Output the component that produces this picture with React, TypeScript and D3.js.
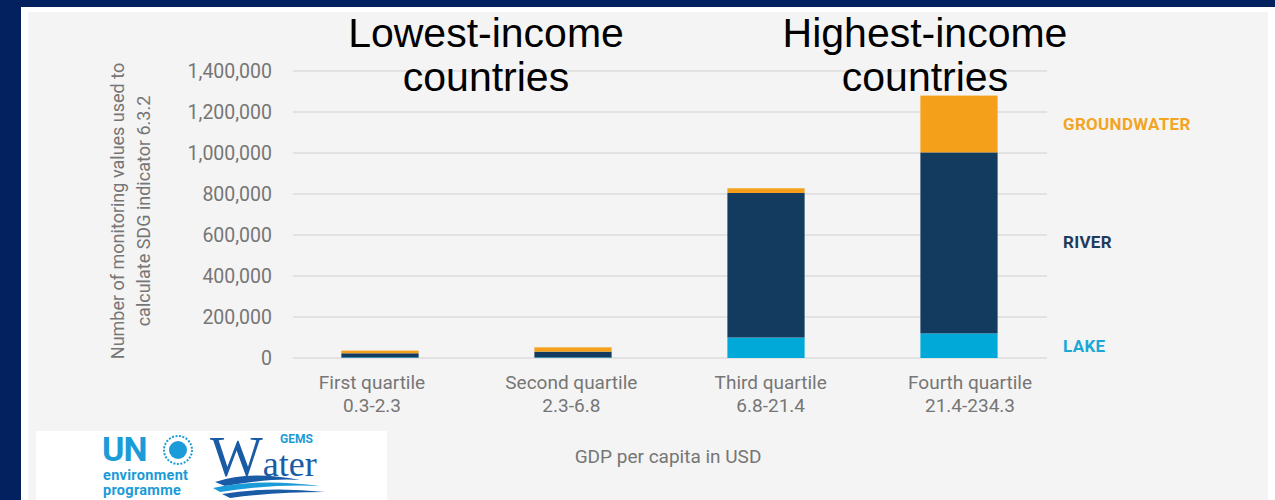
import React from "react";
import * as d3 from "d3";

const categories = ["First quartile", "Second quartile", "Third quartile", "Fourth quartile"];
const gdpRanges = ["0.3-2.3", "2.3-6.8", "6.8-21.4", "21.4-234.3"];
const lake = [3000, 3000, 100000, 120000];
const river = [20000, 28000, 705000, 883000];
const groundwater = [13000, 21000, 23000, 277000];
const yTicks = [0, 200000, 400000, 600000, 800000, 1000000, 1200000, 1400000];
const seriesKeys = ["lake", "river", "groundwater"];
const legendLabels = ["LAKE", "RIVER", "GROUNDWATER"];
const legendValues = [58000, 565000, 1140000];
const colors = ["#01a9d8", "#133b5f", "#f5a01b"];
const legendColors = ["#1ba8d6", "#1f3b5c", "#f4a423"];

const W = 1275;
const H = 500;

export default function App() {
  const rows = categories.map((c, i) => ({
    cat: c,
    lake: lake[i],
    river: river[i],
    groundwater: groundwater[i],
  }));
  const stacked = d3.stack<any>().keys(seriesKeys)(rows);

  const x = d3.scaleBand<string>().domain(categories).range([283.5, 1055.5]).paddingInner(0.6).paddingOuter(0.3);
  const xLabel = d3.scalePoint<string>().domain(categories).range([372, 970]);
  const y = d3.scaleLinear().domain([0, 1400000]).range([358, 71]);
  const fmt = d3.format(",");
  const gray = "#767676";

  return (
    <svg width={W} height={H} style={{ position: "absolute", left: 0, top: 0 }} fontFamily="Roboto, sans-serif">
      <rect x={0} y={0} width={W} height={H} fill="#03215f" />
      <rect x={21} y={7} width={W - 21} height={H - 7} fill="#ffffff" />
      <rect x={28} y={12} width={1240} height={H - 12} fill="#f4f4f4" />

      {/* gridlines */}
      {yTicks.map((t) => (
        <line key={t} x1={293} x2={1047} y1={y(t)} y2={y(t)} stroke="#dcdcdc" strokeWidth={1.5} />
      ))}
      {/* y tick labels */}
      {yTicks.map((t) => (
        <text key={"l" + t} x={272} y={y(t)} dy="0.36em" textAnchor="end" fontSize={19.5} fill={gray}>
          {fmt(t)}
        </text>
      ))}

      {/* bars */}
      {stacked.map((s, si) => (
        <g key={s.key} fill={colors[si]}>
          {s.map((d, i) => (
            <rect
              key={i}
              x={x(categories[i])}
              width={x.bandwidth()}
              y={y(d[1])}
              height={y(d[0]) - y(d[1])}
            />
          ))}
        </g>
      ))}

      {/* y axis title */}
      <g transform="translate(124, 211) rotate(-90)">
        <text textAnchor="middle" fontSize={18} fill={gray}>Number of monitoring values used to</text>
        <text y={26} textAnchor="middle" fontSize={18} fill={gray}>calculate SDG indicator 6.3.2</text>
      </g>

      {/* category labels */}
      {categories.map((c, i) => (
        <g key={c} transform={`translate(${xLabel(c)},0)`}>
          <text y={389} textAnchor="middle" fontSize={19} fill={gray}>{c}</text>
          <text y={412} textAnchor="middle" fontSize={19} fill={gray}>{gdpRanges[i]}</text>
        </g>
      ))}

      {/* x title */}
      <text x={668} y={463} textAnchor="middle" fontSize={19} fill={gray}>GDP per capita in USD</text>

      {/* legend */}
      {legendLabels.map((l, i) => (
        <text key={l} x={1063} y={y(legendValues[i])} dy="0.36em" fontSize={17} fontWeight="bold" fill={legendColors[i]} letterSpacing={0.3}>
          {l}
        </text>
      ))}

      {/* annotations */}
      <g fontFamily="'Liberation Sans', Arial, sans-serif" fontSize={41} fill="#000" textAnchor="middle">
        <text x={486} y={47}>Lowest-income</text>
        <text x={486} y={91}>countries</text>
        <text x={925} y={47}>Highest-income</text>
        <text x={925} y={91}>countries</text>
      </g>

      {/* logo box */}
      <rect x={36} y={431} width={351} height={69} fill="#ffffff" />
      <text x={102} y={461} fontSize={34} fontWeight="bold" fill="#1b9bd7" letterSpacing={-1}>UN</text>
      <circle cx={178} cy={450} r={14} fill="none" stroke="#1b9bd7" strokeWidth={2} strokeDasharray="2 1.5" />
      <circle cx={178} cy={450} r={9} fill="#1b9bd7" />
      <text x={103} y={480} fontSize={14.5} fontWeight="bold" fill="#1b9bd7" letterSpacing={0.3}>environment</text>
      <text x={103} y={495} fontSize={14.5} fontWeight="bold" fill="#1b9bd7" letterSpacing={0.3}>programme</text>
      <text x={210} y={476} fontFamily="'Liberation Serif', serif" fill="#1a5ba6">
        <tspan fontSize={56}>W</tspan>
        <tspan fontSize={36}>ater</tspan>
      </text>
      <text x={280} y={443} fontSize={12} fontWeight="bold" fill="#1e9ad6">GEMS</text>
      <path d="M215,482 Q250,470 300,480 Q270,478 225,486 Z" fill="#1a5ba6" />
      <path d="M213,488 Q260,478 320,486 Q270,484 220,492 Z" fill="#1b9bd7" />
      <path d="M222,494 Q270,486 325,492 Q275,492 230,498 Z" fill="#1a5ba6" />
    </svg>
  );
}
